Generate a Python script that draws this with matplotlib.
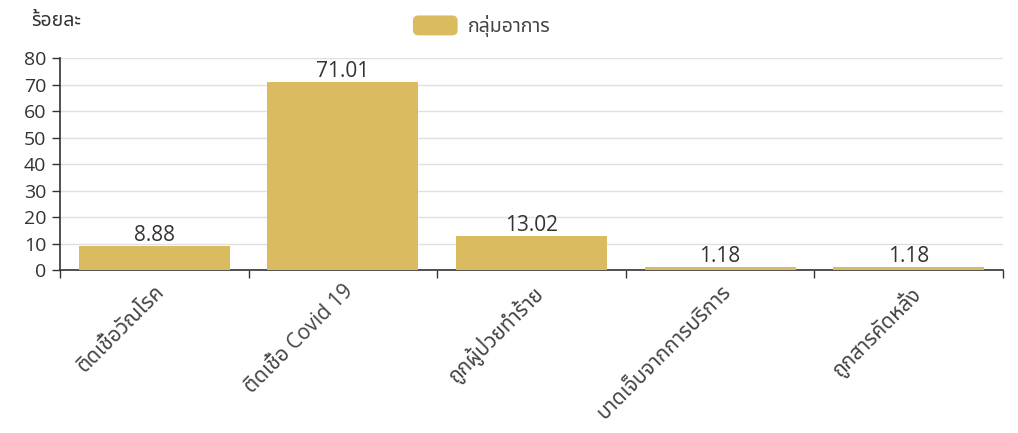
import matplotlib
matplotlib.use("Agg")
import matplotlib.pyplot as plt
from matplotlib.patches import FancyBboxPatch, Patch
from matplotlib.legend_handler import HandlerPatch

##Fonts: Open Sans for latin/digits, Noto Sans Thai for the thai letters
plt.rcParams['font.family'] = ['Open Sans', 'Noto Sans Thai', 'DejaVu Sans']

categories = ["ติดเชื้อวัณโรค", "ติดเชื้อ Covid 19", "ถูกผู้ป่วยทำร้าย",
              "บาดเจ็บจากการบริการ", "ถูกสารคัดหลั่ง"]
values = [8.88, 71.01, 13.02, 1.18, 1.18]
yticks = [0, 10, 20, 30, 40, 50, 60, 70, 80]
series_name = "กลุ่มอาการ"
ylabel = "ร้อยละ"

bar_color = '#dbbb5f'
axis_color = '#333333'
grid_color = '#e0e0e0'


##Rounded legend key like the original
class RoundHandler(HandlerPatch):
	def create_artists(self, legend, orig_handle, xdescent, ydescent, width, height, fontsize, trans):
		p = FancyBboxPatch((-xdescent, -ydescent), width, height,
		                   boxstyle="round,pad=0,rounding_size=4",
		                   fc=bar_color, ec='none', transform=trans)
		return [p]


fig = plt.figure(figsize=(10.18, 4.33), dpi=100)
ax = fig.add_axes([0.0589, 0.3764, 0.9264, 0.4896])

x = list(range(len(categories)))
bars = ax.bar(x, values, width=0.8, color=bar_color, zorder=3)
ax.bar_label(bars, labels=["%.2f" % v for v in values], padding=0,
             fontsize=15, color=axis_color)

ax.set_xlim(-0.5, len(categories) - 0.5)
ax.set_ylim(0, 80)
ax.set_yticks(yticks)
ax.tick_params(axis='y', length=6, width=1, color=axis_color, labelsize=14,
               labelcolor=axis_color, pad=4)

##boundary ticks without labels, labels on the category centres
ax.set_xticks([i - 0.5 for i in range(len(categories) + 1)])
ax.set_xticklabels([])
ax.set_xticks(x, minor=True)
ax.set_xticklabels(categories, minor=True, rotation=45, ha='right',
                   rotation_mode='anchor', fontsize=15, color='#444444')
ax.tick_params(axis='x', which='major', length=6, width=1, color=axis_color)
ax.tick_params(axis='x', which='minor', length=0, pad=8)

ax.grid(axis='y', color=grid_color, linewidth=1, zorder=0)
ax.set_axisbelow(True)
for s in ['top', 'right']:
	ax.spines[s].set_visible(False)
for s in ['left', 'bottom']:
	ax.spines[s].set_color(axis_color)
	ax.spines[s].set_linewidth(1.2)

fig.text(0.031, 0.952, ylabel, fontsize=14, color=axis_color, ha='left', va='center')

handle = Patch(color=bar_color, label=series_name)
fig.legend(handles=[handle], loc='center', bbox_to_anchor=(0.473, 0.94),
           frameon=False, fontsize=14, labelcolor='#444444',
           handlelength=2.3, handleheight=1.2, handletextpad=0.5,
           handler_map={Patch: RoundHandler()})

fig.savefig("out.png")
